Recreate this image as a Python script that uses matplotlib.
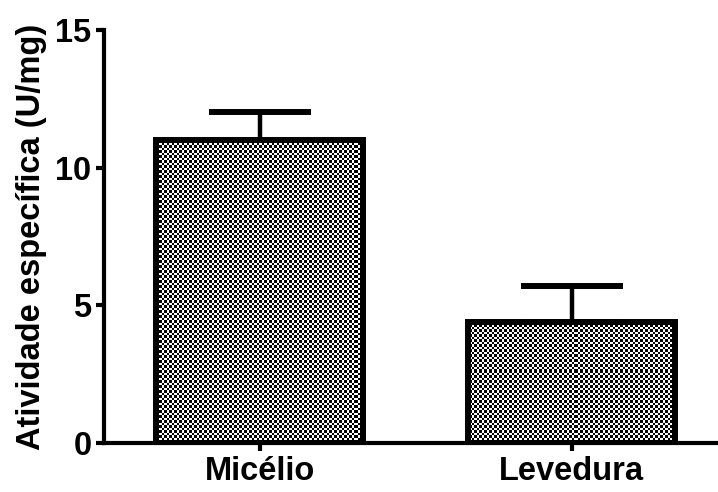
import numpy as np
import matplotlib
matplotlib.use("Agg")
import matplotlib.pyplot as plt

categories = ["Micélio", "Levedura"]
values = [11.0, 4.4]
errors = [1.02, 1.3]
yticks = [0, 5, 10, 15]

plt.rcParams['font.family'] = ['Liberation Sans', 'DejaVu Sans']
plt.rcParams['font.weight'] = 'bold'

fig = plt.figure(figsize=(7.18, 4.92), dpi=100)
ax = fig.add_axes([104/718, 49/492, 1 - 104/718, (443-30)/492])

x = np.arange(len(categories))
lw = 4.3
bars = ax.bar(x, values, width=0.665, facecolor='none', edgecolor='black',
              linewidth=lw, zorder=3)

# checkerboard fill clipped to bars (one image pixel per display pixel)
W, H = 614, 413
ii, jj = np.meshgrid(np.arange(W), np.arange(H))
checker = ((np.floor(ii / 2.5) + np.floor(jj / 2.5)) % 2).astype(float)
for b in bars:
    im = ax.imshow(checker, cmap='gray', vmin=0, vmax=1, extent=[0, 1, 0, 1],
                   transform=ax.transAxes, interpolation='nearest', aspect='auto', zorder=2)
    im.set_clip_path(b)

ax.errorbar(x, values, yerr=[[0]*len(errors), errors], fmt='none', ecolor='black',
            elinewidth=3.2, capsize=37, capthick=4.3, zorder=2.5)

ax.set_xlim(-0.5, 1.47)
ax.set_ylim(0, 15)
ax.set_yticks(yticks)
ax.set_xticks(x)
ax.set_xticklabels(categories)
ax.set_ylabel("Atividade específica (U/mg)", fontsize=23.5, fontweight='bold', labelpad=6)

for s in ['top', 'right']:
    ax.spines[s].set_visible(False)
for s in ['left', 'bottom']:
    ax.spines[s].set_linewidth(3)
ax.tick_params(axis='both', width=3, length=6, labelsize=23.5, pad=3)
for lab in ax.get_xticklabels() + ax.get_yticklabels():
    lab.set_fontweight('bold')

fig.savefig("out.png", dpi=100)
